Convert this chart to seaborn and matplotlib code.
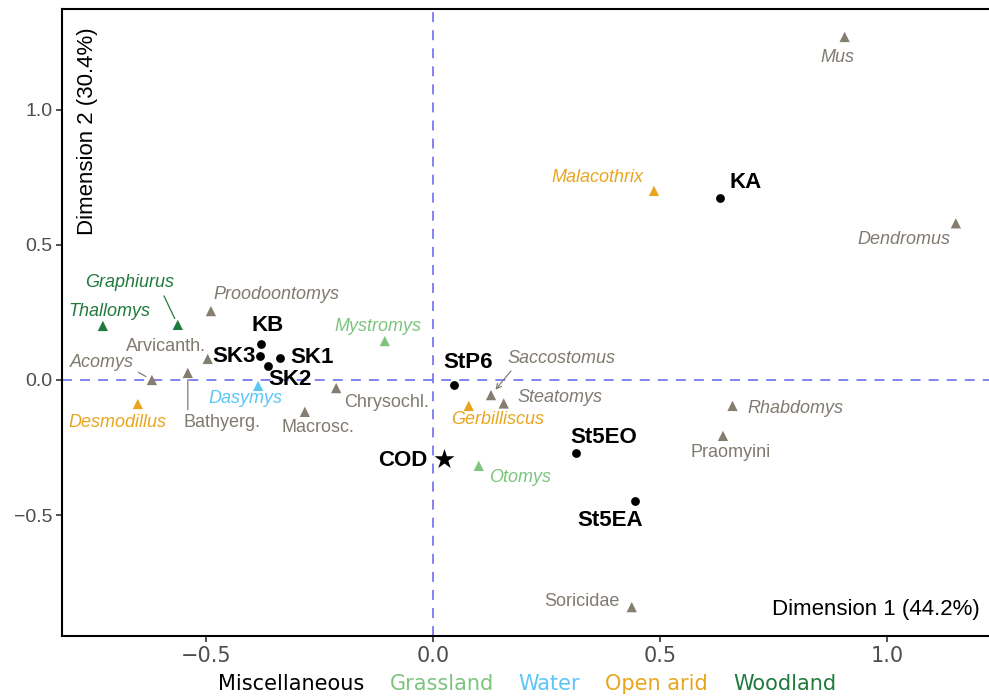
import pandas as pd
import seaborn as sns
import matplotlib.pyplot as plt
from matplotlib.lines import Line2D

# Taxa (triangles)
taxa = ["Mus", "Malacothrix", "Dendromus", "Graphiurus", "Thallomys", "Proodoontomys",
        "Mystromys", "Arvicanth.", "Acomys", "Bathyerg.", "Dasymys", "Desmodillus",
        "Macrosc.", "Chrysochl.", "Saccostomus", "Steatomys", "Gerbilliscus", "Otomys",
        "Rhabdomys", "Praomyini", "Soricidae"]
taxa_x = [0.907, 0.487, 1.152, -0.562, -0.727, -0.489, -0.106, -0.496, -0.619, -0.540,
          -0.385, -0.650, -0.282, -0.213, 0.128, 0.156, 0.079, 0.101, 0.660, 0.639, 0.438]
taxa_y = [1.270, 0.700, 0.580, 0.204, 0.200, 0.255, 0.144, 0.078, 0.000, 0.026,
          -0.022, -0.089, -0.118, -0.030, -0.056, -0.087, -0.096, -0.318, -0.096, -0.207, -0.841]
taxa_habitat = ["Miscellaneous", "Open arid", "Miscellaneous", "Woodland", "Woodland",
                "Miscellaneous", "Grassland", "Miscellaneous", "Miscellaneous", "Miscellaneous",
                "Water", "Open arid", "Miscellaneous", "Miscellaneous", "Miscellaneous",
                "Miscellaneous", "Open arid", "Grassland", "Miscellaneous", "Miscellaneous",
                "Miscellaneous"]
# genus names are italic, higher groupings upright
taxa_italic = [True, True, True, True, True, True, True, False, True, False, True, True,
               False, False, True, True, True, True, True, False, False]

# Sites (black dots) and the COD star
sites = ["KA", "KB", "SK3", "SK1", "SK2", "StP6", "St5EO", "St5EA"]
sites_x = [0.632, -0.379, -0.381, -0.337, -0.363, 0.046, 0.315, 0.445]
sites_y = [0.674, 0.133, 0.089, 0.081, 0.052, -0.019, -0.271, -0.449]
cod_x = [0.024]
cod_y = [-0.293]

habitats = ["Miscellaneous", "Grassland", "Water", "Open arid", "Woodland"]
point_colors = {"Miscellaneous": "#847D70", "Grassland": "#7DC47E", "Water": "#5CC6F7",
                "Open arid": "#E8A61E", "Woodland": "#1F7A3C"}
text_colors = {"Miscellaneous": "#807A70", "Grassland": "#7DC47E", "Water": "#5CC6F7",
               "Open arid": "#E8A61E", "Woodland": "#1F7A3C"}
legend_colors = {"Miscellaneous": "black", "Grassland": "#7DC47E", "Water": "#5CC6F7",
                 "Open arid": "#E8A61E", "Woodland": "#1F7A3C"}

# label offsets in pixels (dx, dy, ha) relative to each mark
taxa_offsets = {
    "Mus": (-7, -21, "center"), "Malacothrix": (-11, 13, "right"),
    "Dendromus": (-52, -16, "center"), "Graphiurus": (-48, 42, "center"),
    "Thallomys": (7, 14, "center"), "Proodoontomys": (66, 17, "center"),
    "Mystromys": (-7, 15, "center"), "Arvicanth.": (-42, 12, "center"),
    "Acomys": (-50, 17, "center"), "Bathyerg.": (34, -50, "center"),
    "Dasymys": (-13, -13, "center"), "Desmodillus": (-20, -18, "center"),
    "Macrosc.": (13, -16, "center"), "Chrysochl.": (50, -14, "center"),
    "Saccostomus": (70, 37, "center"), "Steatomys": (56, 6, "center"),
    "Gerbilliscus": (29, -14, "center"), "Otomys": (41, -12, "center"),
    "Rhabdomys": (63, -3, "center"), "Praomyini": (8, -17, "center"),
    "Soricidae": (-50, 6, "center"),
}
# connector segments: relative position on the label box
segments = {"Graphiurus": (0.86, 0.0, "-"), "Acomys": (1.0, 0.1, "-"),
            "Bathyerg.": (0.06, 1.0, "-"), "Saccostomus": (0.07, 0.0, "->")}
site_offsets = {"KA": (26, 15), "KB": (7, 19), "SK3": (-26, -1), "SK1": (32, 1),
                "SK2": (22, -14), "StP6": (14, 23), "St5EO": (28, 16), "St5EA": (-25, -19)}

taxa_df = pd.DataFrame({"name": taxa, "x": taxa_x, "y": taxa_y, "habitat": taxa_habitat})
sites_df = pd.DataFrame({"name": sites, "x": sites_x, "y": sites_y})

sns.set_theme(style="white")
plt.rcParams["font.family"] = ["Liberation Sans", "DejaVu Sans"]

fig = plt.figure(figsize=(9.89, 6.98), dpi=100)
ax = fig.add_axes([0.0627, 0.0888, 0.9373, 0.8985])

ax.axhline(0, color="#7878F2", linestyle=(0, (5.5, 4.5)), linewidth=1.3, zorder=1)
ax.axvline(0, color="#7878F2", linestyle=(0, (5.5, 4.5)), linewidth=1.3, zorder=1)

sns.scatterplot(data=taxa_df, x="x", y="y", hue="habitat", palette=point_colors,
                marker="^", s=55, linewidth=0, legend=False, ax=ax, zorder=3)
sns.scatterplot(data=sites_df, x="x", y="y", color="black", marker="o", s=40,
                linewidth=0, legend=False, ax=ax, zorder=3)
ax.scatter(cod_x, cod_y, marker="*", s=230, color="black", linewidths=0, zorder=3)

for name, x, y, hab, ital in zip(taxa, taxa_x, taxa_y, taxa_habitat, taxa_italic):
    dx, dy, ha = taxa_offsets[name]
    arrow = None
    if name in segments:
        rx, ry, style = segments[name]
        arrow = dict(arrowstyle=style, color=point_colors[hab], lw=0.9,
                     relpos=(rx, ry), shrinkA=1, shrinkB=5,
                     mutation_scale=9)
    ax.annotate(name, (x, y), xytext=(dx, dy), textcoords="offset pixels",
                ha=ha, va="center", fontsize=13, color=text_colors[hab],
                style="italic" if ital else "normal", arrowprops=arrow, zorder=4)

for name, x, y in zip(sites, sites_x, sites_y):
    dx, dy = site_offsets[name]
    ax.annotate(name, (x, y), xytext=(dx, dy), textcoords="offset pixels",
                ha="center", va="center", fontsize=16, fontweight="bold",
                color="black", zorder=4)
ax.annotate("COD", (cod_x[0], cod_y[0]), xytext=(-41, -1), textcoords="offset pixels",
            ha="center", va="center", fontsize=16, fontweight="bold", color="black")

ax.set_xlim(-0.817, 1.225)
ax.set_ylim(-0.948, 1.374)
ax.set_xticks([-0.5, 0.0, 0.5, 1.0])
ax.set_yticks([-0.5, 0.0, 0.5, 1.0])
ax.set_xticklabels(["\u22120.5", "0.0", "0.5", "1.0"], family=["Liberation Sans Narrow", "DejaVu Sans"],
                   fontsize=15, color="#4D4D4D")
ax.set_yticklabels(["\u22120.5", "0.0", "0.5", "1.0"], fontsize=14, color="#4D4D4D")
ax.tick_params(axis="both", direction="out", length=4, width=1.2, color="#333333",
               left=True, bottom=True, pad=3)
ax.set_xlabel("")
ax.set_ylabel("")
for side in ["left", "top", "bottom"]:
    ax.spines[side].set_color("black")
    ax.spines[side].set_linewidth(1.5)
ax.spines["right"].set_visible(False)

ax.text(0.990, 0.043, "Dimension 1 (44.2%)", transform=ax.transAxes, ha="right",
        va="center", fontsize=16, color="black")
ax.text(0.028, 0.805, "Dimension 2 (30.4%)", transform=ax.transAxes, ha="center",
        va="center", rotation=90, fontsize=16, color="black")

handles = [Line2D([], [], linestyle="none") for _ in habitats]
leg = fig.legend(handles, habitats, loc="center", bbox_to_anchor=(0.533, 0.02), ncol=5,
                 frameon=False, handlelength=0, handletextpad=0, columnspacing=1.2,
                 prop={"family": ["Liberation Sans Narrow", "DejaVu Sans"], "size": 15})
for txt, hab in zip(leg.get_texts(), habitats):
    txt.set_color(legend_colors[hab])

fig.savefig("out.png", dpi=100)
